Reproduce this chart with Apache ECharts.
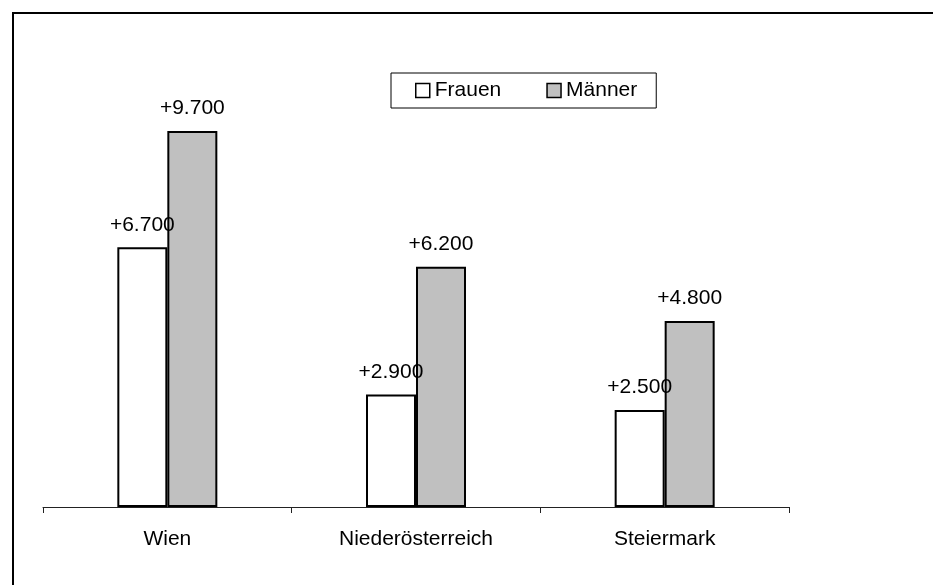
<!DOCTYPE html>
<html>
<head>
<meta charset="utf-8">
<script src="https://cdn.jsdelivr.net/npm/echarts@6/dist/echarts.min.js"></script>
<style>
html,body{margin:0;padding:0;background:#fff;}
#c{width:933px;height:585px;}
</style>
</head>
<body>
<div id="c"></div>
<script>
var categories = ['Wien', 'Niederösterreich', 'Steiermark'];
var seriesNames = ['Frauen', 'Männer'];
var frauen = [6700, 2900, 2500];
var maenner = [9700, 6200, 4800];

function fmt(p) {
  return '+' + String(p.value).replace(/\B(?=(\d{3})+(?!\d))/g, '.');
}
var FONT = '"Liberation Sans", Arial, sans-serif';
var chart = echarts.init(document.getElementById('c'), null, {renderer: 'canvas'});
var labelCfg = {
  show: true, position: 'top', distance: 12, formatter: fmt,
  color: '#000', fontSize: 21, fontFamily: FONT
};
chart.setOption({
  animation: false,
  backgroundColor: '#fff',
  graphic: [{
    type: 'rect', x: 0, y: 0, z: 100,
    shape: {x: 13, y: 13, width: 1000, height: 1000},
    style: {fill: 'none', stroke: '#000', lineWidth: 2}
  }],
  grid: {left: 43, right: 144, top: 119.4, bottom: 78, containLabel: false},
  legend: {
    left: 391, top: 73,
    padding: [7, 19, 7, 24],
    itemGap: 45,
    itemWidth: 14, itemHeight: 14,
    borderColor: '#000', borderWidth: 1,
    textStyle: {color: '#000', fontSize: 21, fontFamily: FONT},
    data: [
      {name: seriesNames[0], icon: 'rect', itemStyle: {color: '#fff', borderColor: '#000', borderWidth: 1.5}},
      {name: seriesNames[1], icon: 'rect', itemStyle: {color: '#c0c0c0', borderColor: '#000', borderWidth: 1.5}}
    ]
  },
  xAxis: {
    type: 'category', data: categories,
    axisLine: {lineStyle: {color: '#222', width: 1}},
    axisTick: {show: true, length: 6, lineStyle: {color: '#222'}},
    axisLabel: {color: '#000', fontSize: 21, fontFamily: FONT, margin: 22}
  },
  yAxis: {
    type: 'value', min: 0, max: 10000, show: false,
    splitLine: {show: false}
  },
  series: [
    {name: seriesNames[0], type: 'bar', data: frauen, barWidth: 50, barGap: '0%',
     itemStyle: {color: '#fff', borderColor: '#000', borderWidth: 2}, label: labelCfg},
    {name: seriesNames[1], type: 'bar', data: maenner, barWidth: 50, barGap: '0%',
     itemStyle: {color: '#c0c0c0', borderColor: '#000', borderWidth: 2}, label: labelCfg}
  ]
});
</script>
</body>
</html>
